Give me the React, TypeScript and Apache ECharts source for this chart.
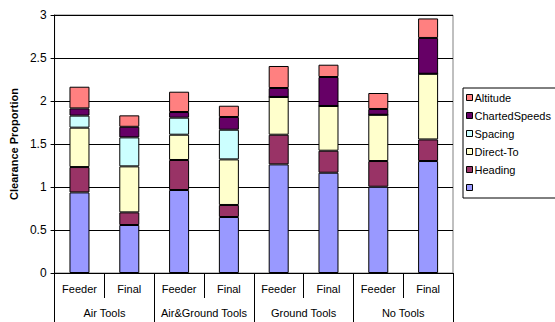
import React, { useEffect, useRef } from "react";
import * as echarts from "echarts";

// Sub-categories (Feeder / Final) for each tool group
const phases = ["Feeder", "Final", "Feeder", "Final", "Feeder", "Final", "Feeder", "Final"];
const groups = ["Air Tools", "Air&Ground Tools", "Ground Tools", "No Tools"];
const yTicks = [0, 0.5, 1, 1.5, 2, 2.5, 3];

// Stacked segments, bottom to top
const baseValues = [0.937, 0.558, 0.965, 0.651, 1.263, 1.166, 1.003, 1.302];
const heading = [0.295, 0.147, 0.349, 0.14, 0.345, 0.256, 0.299, 0.251];
const directTo = [0.458, 0.535, 0.294, 0.53, 0.439, 0.52, 0.538, 0.764];
const spacing = [0.14, 0.337, 0.198, 0.345, 0, 0, 0, 0];
const chartedSpeeds = [0.084, 0.123, 0.066, 0.148, 0.104, 0.337, 0.067, 0.416];
const altitude = [0.252, 0.133, 0.236, 0.131, 0.256, 0.143, 0.186, 0.227];

const seriesDefs = [
  { name: " ", data: baseValues, color: "#9999FF" },
  { name: "Heading", data: heading, color: "#993366" },
  { name: "Direct-To", data: directTo, color: "#FFFFCC" },
  { name: "Spacing", data: spacing, color: "#CCFFFF" },
  { name: "ChartedSpeeds", data: chartedSpeeds, color: "#660066" },
  { name: "Altitude", data: altitude, color: "#FF8080" },
];

const FONT = "'Liberation Sans', Arial, sans-serif";

export default function App() {
  const ref = useRef<HTMLDivElement>(null);

  useEffect(() => {
    if (!ref.current) return;
    const chart = echarts.init(ref.current, undefined, { renderer: "svg" });
    chart.setOption({
      animation: false,
      backgroundColor: "#ffffff",
      textStyle: { fontFamily: FONT },
      grid: {
        left: 51,
        top: 15,
        width: 402,
        height: 258,
        show: true,
        borderColor: "#808080",
        borderWidth: 1,
      },
      legend: {
        orient: "vertical",
        left: 463,
        top: 88,
        data: ["Altitude", "ChartedSpeeds", "Spacing", "Direct-To", "Heading", " "],
        itemWidth: 6,
        itemHeight: 6,
        itemGap: 5,
        padding: [3, 10, 4, 3],
        borderColor: "#000",
        borderWidth: 1,
        selectedMode: false,
        icon: "rect",
        itemStyle: { borderColor: "#000", borderWidth: 1 },
        textStyle: { fontFamily: FONT, fontSize: 11, color: "#000", padding: [0, 0, 0, -3], lineHeight: 13 },
      },
      xAxis: [
        {
          type: "category",
          data: phases,
          position: "bottom",
          axisLine: { show: true, lineStyle: { color: "#000", width: 1 } },
          axisTick: { show: true, interval: 0, length: 25, lineStyle: { color: "#000" } },
          axisLabel: { color: "#000", fontSize: 11, margin: 10, interval: 0, fontFamily: FONT },
        },
        {
          type: "category",
          data: groups,
          position: "bottom",
          axisLine: { show: false },
          axisTick: { show: true, interval: 0, length: 49, lineStyle: { color: "#000" } },
          axisLabel: { color: "#000", fontSize: 11, margin: 34, interval: 0, fontFamily: FONT },
        },
      ],
      yAxis: {
        type: "value",
        min: yTicks[0],
        max: yTicks[yTicks.length - 1],
        interval: 0.5,
        name: "Clearance Proportion",
        nameLocation: "middle",
        nameGap: 33,
        nameTextStyle: { fontWeight: "bold", fontSize: 11, color: "#000", fontFamily: FONT },
        axisLine: { show: true, lineStyle: { color: "#000" } },
        axisTick: { show: true, length: 4, lineStyle: { color: "#000" } },
        axisLabel: { color: "#000", fontSize: 12, margin: 8, fontFamily: FONT },
        splitLine: { lineStyle: { color: "#000", width: 1 } },
      },
      series: seriesDefs.map((s) => ({
        name: s.name,
        type: "bar",
        stack: "total",
        xAxisIndex: 0,
        barWidth: 20,
        data: s.data,
        itemStyle: { color: s.color, borderColor: "#000", borderWidth: 1 },
      })),
    });
    return () => chart.dispose();
  }, []);

  return (
    <div
      ref={ref}
      style={{ position: "fixed", left: 0, top: 0, width: 555, height: 322, background: "#fff" }}
    />
  );
}
